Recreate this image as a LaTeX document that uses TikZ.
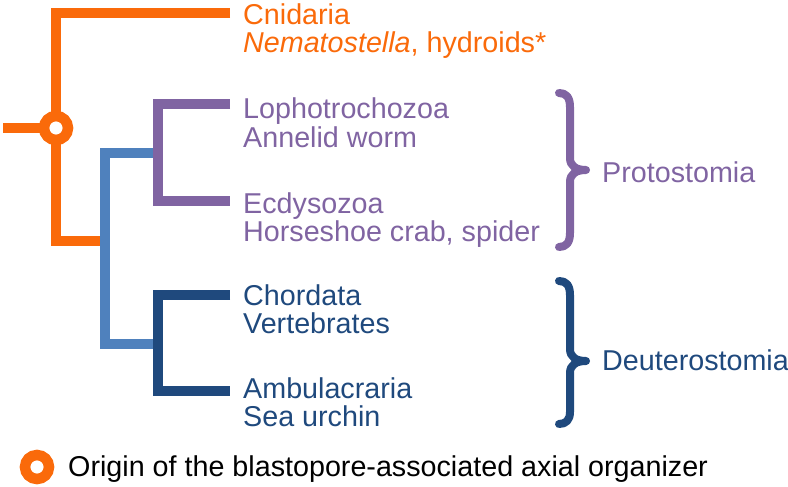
\documentclass[tikz,border=0pt]{standalone}
\usepackage{fontspec}
\setmainfont{Liberation Sans}
\definecolor{cnid}{HTML}{FA6A0A}
\definecolor{proto}{HTML}{8064A2}
\definecolor{bilat}{HTML}{4F81BD}
\definecolor{deut}{HTML}{1F497D}
\begin{document}
\begin{tikzpicture}[x=1pt,y=-1pt,
  branch/.style={line width=10.5pt,line join=miter,line cap=butt},
  ring/.style={draw=cnid,fill=white,line width=10.5pt},
  lbl/.style={anchor=base west,inner sep=0pt,font=\fontsize{28.7}{28.7}\selectfont},
  bracepath/.style={line width=8pt,line cap=round,line join=round}]
\useasboundingbox (0,0) rectangle (788,487);
% junction coordinates
\coordinate (root) at (3,128);
\coordinate (o) at (56,128);
\coordinate (oT) at (56,13);
\coordinate (cn) at (230,13);
\coordinate (oB) at (56,241);
\coordinate (b) at (105,241);
\coordinate (bT) at (105,153);
\coordinate (bB) at (105,344);
\coordinate (pT) at (158,104);
\coordinate (pM) at (158,153);
\coordinate (pB) at (158,201);
\coordinate (lo) at (230,104);
\coordinate (ec) at (230,201);
\coordinate (dT) at (158,295);
\coordinate (dM) at (158,344);
\coordinate (dB) at (158,391);
\coordinate (ch) at (230,295);
\coordinate (am) at (230,391);
% orange
\draw[branch,cnid] (cn) -- (oT) -- (oB) -- (b);
\draw[branch,cnid] (root) -- (o);
% light blue
\draw[branch,bilat] (pM) -- (bT) -- (bB) -- (dM);
% purple
\draw[branch,proto] (lo) -- (pT) -- (pB) -- (ec);
% dark blue
\draw[branch,deut] (ch) -- (dT) -- (dB) -- (am);
% organizer ring
\draw[ring] (o) circle[radius=12pt];
% labels
\node[lbl,text=cnid] (t1) at (243,25) {Cnidaria};
\node[lbl,text=cnid] (t2) at (243,53) {\textit{Nematostella}, hydroids*};
\node[lbl,text=proto] (t3) at (243,119) {Lophotrochozoa};
\node[lbl,text=proto] (t4) at (243,147) {Annelid worm};
\node[lbl,text=proto] (t5) at (243,213) {Ecdysozoa};
\node[lbl,text=proto] (t6) at (243,241) {Horseshoe crab, spider};
\node[lbl,text=deut] (t7) at (243,305) {Chordata};
\node[lbl,text=deut] (t8) at (243,333) {Vertebrates};
\node[lbl,text=deut] (t9) at (243,398) {Ambulacraria};
\node[lbl,text=deut] (t10) at (243,426) {Sea urchin};
% braces
\draw[bracepath,proto] (559,93) .. controls (566,93) and (570,97) .. (570,107) -- (570,158)
  .. controls (570,166) and (576,170) .. (586,170)
  .. controls (576,170) and (570,174) .. (570,182) -- (570,233)
  .. controls (570,243) and (566,247) .. (559,247);
\draw[bracepath,deut] (559,281) .. controls (566,281) and (570,285) .. (570,295) -- (570,349)
  .. controls (570,357) and (576,361) .. (586,361)
  .. controls (576,361) and (570,365) .. (570,373) -- (570,412)
  .. controls (570,420) and (566,424) .. (559,424);
\node[lbl,text=proto] (pr) at (602,182) {Protostomia};
\node[lbl,text=deut] (de) at (602,370) {Deuterostomia};
% legend
\coordinate (lg) at (37,467);
\draw[ring] (lg) circle[radius=12pt];
\node[lbl,text=black] (leg) at (68,476) {Origin of the blastopore-associated axial organizer};
\end{tikzpicture}
\end{document}
